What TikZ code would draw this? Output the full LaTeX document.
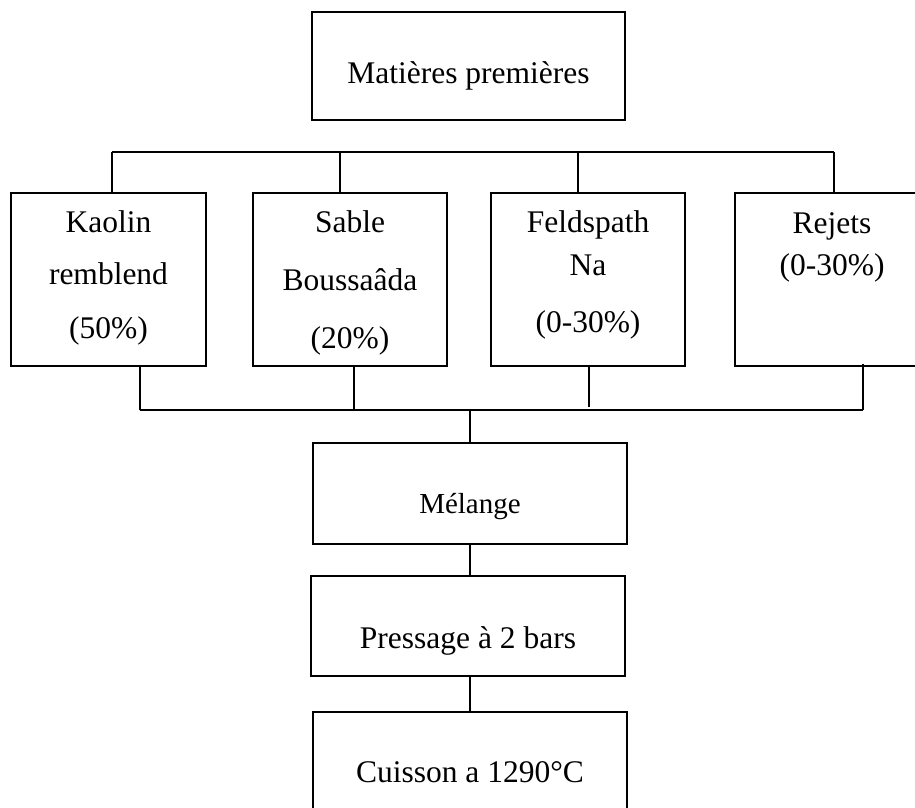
\documentclass[tikz,border=0pt]{standalone}
\usepackage{fontspec}
\setmainfont{Liberation Serif}
\begin{document}
\begin{tikzpicture}[x=1pt,y=-1pt,
  box/.style={draw,line width=1.4pt,rectangle,inner sep=0pt},
  lbl/.style={anchor=base,inner sep=0pt,font=\fontsize{31.5}{36}\selectfont},
  lblsmall/.style={anchor=base,inner sep=0pt,font=\fontsize{29}{34}\selectfont},
  wire/.style={line width=1.4pt}]
\clip (0,0) rectangle (915,807);
\fill[white] (0,0) rectangle (915,807);

% boxes
\node[box,minimum width=313pt,minimum height=108pt] (top) at (468.5,66) {};
\node[box,minimum width=195pt,minimum height=173pt] (kaolin) at (108.5,279.5) {};
\node[box,minimum width=194pt,minimum height=173pt] (sable) at (350,279.5) {};
\node[box,minimum width=194pt,minimum height=173pt] (feld) at (588,279.5) {};
\node[box,minimum width=194pt,minimum height=173pt] (rejets) at (832,279.5) {};
\node[box,minimum width=314pt,minimum height=101pt] (melange) at (470,493.5) {};
\node[box,minimum width=314pt,minimum height=100pt] (pressage) at (468,626) {};
\node[box,minimum width=314pt,minimum height=110pt] (cuisson) at (470,767) {};

% labels
\node[lbl] (t0) at (468.5,83) {Matières premières};
\node[lbl] (k1) at (108.5,232) {Kaolin};
\node[lbl] (k2) at (108.5,284) {remblend};
\node[lbl] (k3) at (108.5,338) {(50\%)};
\node[lbl] (s1) at (350,232) {Sable};
\node[lbl] (s2) at (350,290) {Boussaâda};
\node[lbl] (s3) at (350,348) {(20\%)};
\node[lbl] (f1) at (588,232) {Feldspath};
\node[lbl] (f2) at (588,275) {Na};
\node[lbl] (f3) at (588,332) {(0-30\%)};
\node[lbl] (r1) at (832,233) {Rejets};
\node[lbl] (r2) at (832,275) {(0-30\%)};
\node[lblsmall] (m1) at (470,513) {Mélange};
\node[lbl] (p1) at (468,648) {Pressage à 2 bars};
\node[lbl] (c1) at (470,782) {Cuisson a 1290°C};

% upper distribution bus
\coordinate (ua) at (112,152);
\coordinate (ub) at (340,152);
\coordinate (uc) at (578,152);
\coordinate (ud) at (834,152);
\draw[wire] (ua) -- (ud);
\draw[wire] (ua) -- (ua |- kaolin.north);
\draw[wire] (ub) -- (ub |- sable.north);
\draw[wire] (uc) -- (uc |- feld.north);
\draw[wire] (ud) -- (ud |- rejets.north);

% lower collecting bus
\coordinate (la) at (140,410);
\coordinate (lb) at (354,410);
\coordinate (lc) at (589,407);
\coordinate (ld) at (863,410);
\coordinate (lm) at (470,410);
\draw[wire] (la) -- (ld);
\draw[wire] (kaolin.south -| la) -- (la);
\draw[wire] (sable.south -| lb) -- (lb);
\draw[wire] (feld.south -| lc) -- (lc);
\draw[wire] ([yshift=3pt]rejets.south -| ld) -- (ld);
\draw[wire] (lm) -- (lm |- melange.north);

% process chain
\draw[wire] (melange.south -| lm) -- (pressage.north -| lm);
\draw[wire] (pressage.south -| lm) -- (cuisson.north -| lm);
\end{tikzpicture}
\end{document}
